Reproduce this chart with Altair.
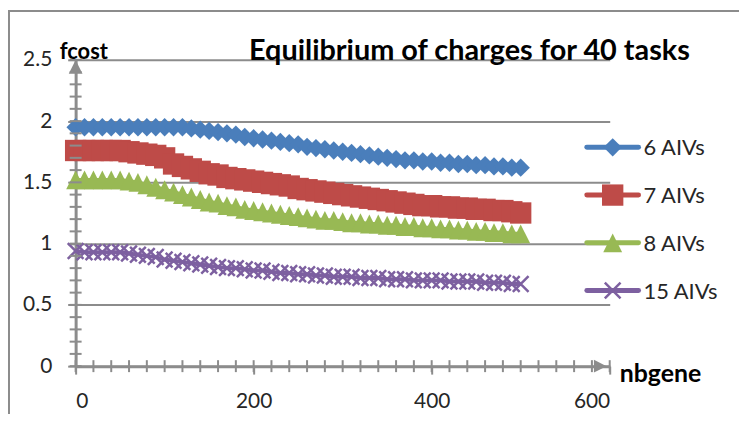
import altair as alt
import pandas as pd

# ---------------- data ----------------
nbgene = [0, 10, 20, 30, 40, 50, 60, 70, 80, 90, 100, 110, 120, 130, 140, 150, 160, 170, 180, 190,
          200, 210, 220, 230, 240, 250, 260, 270, 280, 290, 300, 310, 320, 330, 340, 350, 360, 370,
          380, 390, 400, 410, 420, 430, 440, 450, 460, 470, 480, 490, 500]

cost_6 = [1.95, 1.95, 1.95, 1.95, 1.95, 1.95, 1.95, 1.95, 1.95, 1.95, 1.95, 1.95, 1.95, 1.94, 1.93,
          1.92, 1.91, 1.90, 1.89, 1.87, 1.86, 1.85, 1.84, 1.83, 1.82, 1.81, 1.79, 1.78, 1.77, 1.76,
          1.75, 1.74, 1.73, 1.72, 1.71, 1.70, 1.69, 1.68, 1.68, 1.67, 1.67, 1.66, 1.66, 1.65, 1.65,
          1.64, 1.64, 1.63, 1.63, 1.62, 1.62]

cost_7 = [1.76, 1.76, 1.76, 1.76, 1.76, 1.76, 1.75, 1.74, 1.73, 1.72, 1.70, 1.65, 1.63, 1.61, 1.59,
          1.57, 1.56, 1.54, 1.53, 1.52, 1.51, 1.50, 1.49, 1.48, 1.47, 1.45, 1.44, 1.43, 1.42, 1.41,
          1.40, 1.39, 1.38, 1.37, 1.36, 1.35, 1.34, 1.33, 1.32, 1.31, 1.31, 1.30, 1.30, 1.29, 1.29,
          1.28, 1.28, 1.27, 1.27, 1.26, 1.25]

cost_8 = [1.52, 1.52, 1.52, 1.52, 1.52, 1.52, 1.51, 1.50, 1.48, 1.46, 1.44, 1.42, 1.40, 1.38, 1.36,
          1.34, 1.33, 1.31, 1.30, 1.28, 1.27, 1.26, 1.25, 1.24, 1.23, 1.22, 1.21, 1.20, 1.19, 1.19,
          1.18, 1.17, 1.17, 1.16, 1.16, 1.15, 1.15, 1.14, 1.14, 1.13, 1.13, 1.12, 1.12, 1.11, 1.11,
          1.10, 1.10, 1.09, 1.09, 1.08, 1.08]

cost_15 = [0.94, 0.93, 0.93, 0.93, 0.93, 0.93, 0.92, 0.91, 0.90, 0.89, 0.87, 0.86, 0.85, 0.84, 0.83,
           0.82, 0.81, 0.80, 0.80, 0.79, 0.78, 0.78, 0.77, 0.76, 0.76, 0.75, 0.75, 0.74, 0.74, 0.73,
           0.73, 0.73, 0.72, 0.72, 0.72, 0.71, 0.71, 0.71, 0.70, 0.70, 0.70, 0.70, 0.69, 0.69, 0.69,
           0.69, 0.68, 0.68, 0.68, 0.67, 0.67]

series_names = ["6 AIVs", "7 AIVs", "8 AIVs", "15 AIVs"]
series_values = [cost_6, cost_7, cost_8, cost_15]
series_colors = ["#4A7EBB", "#BE4B48", "#98B954", "#7D60A0"]

y_tick_values = [0, 0.5, 1, 1.5, 2, 2.5]
x_tick_values = [0, 200, 400, 600]
y_minor_ticks = [round(i * 0.1, 1) for i in range(26)]
x_minor_ticks = [i * 20 for i in range(31)]

title_text = "Equilibrium  of charges for 40 tasks"
x_title = "nbgene"
y_title = "fcost"

# ---------------- build ----------------
rows = []
for name, vals in zip(series_names, series_values):
    for g, v in zip(nbgene, vals):
        rows.append({"nbgene": g, "fcost": v, "series": name})
df = pd.DataFrame(rows)

W, H = 537, 308
GRAY = "#8C8C8C"
FONT = "Lato"

DIAMOND = "M0,-1L1,0L0,1L-1,0Z"
SQUARE = "M-1,-1L1,-1L1,1L-1,1Z"
TRIANGLE = "M0,-1L1,1L-1,1Z"
XSHAPE = "M-1,-1L1,1M-1,1L1,-1"
shapes = [DIAMOND, SQUARE, TRIANGLE, XSHAPE]
sizes = [340, 460, 360, 250]

x_scale = alt.Scale(domain=[0, 600], nice=False, zero=False)
y_scale = alt.Scale(domain=[0, 2.5], nice=False, zero=False)

x_axis = alt.Axis(values=x_tick_values, title=None, grid=False, domainColor=GRAY, domainWidth=3,
                  tickColor=GRAY, tickSize=8, tickWidth=2, labelPadding=17, labelFontSize=21,
                  labelFont=FONT, labelColor="#262626", format="d")
y_axis = alt.Axis(values=y_tick_values, title=None, grid=True, gridColor=GRAY, gridWidth=2,
                  gridOpacity=1, domainColor=GRAY, domainWidth=3, tickColor=GRAY, tickSize=8,
                  tickWidth=2, labelPadding=16, labelFontSize=21, labelFont=FONT,
                  labelColor="#262626", format="~g")


def X(field):
    return alt.X(field, scale=x_scale, axis=x_axis)


def Y(field):
    return alt.Y(field, scale=y_scale, axis=y_axis)


layers = []

# series lines
for name, col in zip(series_names, series_colors):
    sub = df[df["series"] == name]
    layers.append(alt.Chart(sub).mark_line(strokeWidth=4, color=col).encode(
        x=X("nbgene:Q"), y=Y("fcost:Q")))

# series markers
for name, col, shp, sz in zip(series_names, series_colors, shapes, sizes):
    sub = df[df["series"] == name]
    if shp == XSHAPE:
        mk = alt.Chart(sub).mark_point(shape=shp, filled=False, size=sz, color=col, strokeWidth=2.5, opacity=1)
    else:
        mk = alt.Chart(sub).mark_point(shape=shp, filled=True, size=sz, color=col, opacity=1)
    layers.append(mk.encode(x=X("nbgene:Q"), y=Y("fcost:Q")))

# minor ticks crossing the axes
yt = pd.DataFrame({"v": y_minor_ticks, "z": [0] * len(y_minor_ticks)})
layers.append(alt.Chart(yt).mark_tick(orient="horizontal", size=12, thickness=2, color=GRAY, opacity=1).encode(
    x=X("z:Q"), y=Y("v:Q")))
xt = pd.DataFrame({"v": x_minor_ticks, "z": [0] * len(x_minor_ticks)})
layers.append(alt.Chart(xt).mark_tick(orient="vertical", size=12, thickness=2, color=GRAY, opacity=1).encode(
    x=X("v:Q"), y=Y("z:Q")))

# axis arrowheads
arr_y = pd.DataFrame({"ax": [0], "ay": [2.5]})
layers.append(alt.Chart(arr_y).mark_point(shape=TRIANGLE, filled=True, size=190, color=GRAY, opacity=1,
                                          yOffset=7).encode(x=X("ax:Q"), y=Y("ay:Q")))
arr_x = pd.DataFrame({"ax": [600], "ay": [0]})
layers.append(alt.Chart(arr_x).mark_point(shape="M1,0L-1,-1L-1,1Z", filled=True, size=160, color=GRAY,
                                          opacity=1, xOffset=-9.5).encode(x=X("ax:Q"), y=Y("ay:Q")))

# legend (manual)
for i, (name, col, shp, sz) in enumerate(zip(series_names, series_colors, shapes, sizes)):
    ly = 88 + 48 * i
    ld = pd.DataFrame({"series": [name]})
    layers.append(alt.Chart(ld).mark_rule(strokeWidth=5, color=col, strokeCap="round").encode(
        x=alt.value(514), x2=alt.value(566), y=alt.value(ly)))
    if shp == XSHAPE:
        lm = alt.Chart(ld).mark_point(shape=shp, filled=False, size=sz, color=col, strokeWidth=2.5, opacity=1)
    else:
        lm = alt.Chart(ld).mark_point(shape=shp, filled=True, size=sz, color=col, opacity=1)
    layers.append(lm.encode(x=alt.value(540), y=alt.value(ly)))
    layers.append(alt.Chart(ld).mark_text(align="left", baseline="middle", font=FONT, fontSize=22,
                                          color="#262626").encode(
        x=alt.value(571), y=alt.value(ly + 1), text="series:N"))

# texts: title and axis titles
tt = pd.DataFrame({"t": [title_text]})
layers.append(alt.Chart(tt).mark_text(align="center", baseline="alphabetic", font=FONT, fontSize=29,
                                      fontWeight="bold", color="#000000").encode(
    x=alt.value(396), y=alt.value(0), text="t:N"))
yt_df = pd.DataFrame({"t": [y_title]})
layers.append(alt.Chart(yt_df).mark_text(align="left", baseline="alphabetic", font=FONT, fontSize=22,
                                         fontWeight="bold", color="#000000").encode(
    x=alt.value(-16), y=alt.value(-1), text="t:N"))
xt_df = pd.DataFrame({"t": [x_title]})
layers.append(alt.Chart(xt_df).mark_text(align="left", baseline="alphabetic", font=FONT, fontSize=25,
                                         fontWeight="bold", color="#000000").encode(
    x=alt.value(547), y=alt.value(324), text="t:N"))

# outer frame (top and left border)
one = pd.DataFrame({"a": [0]})
layers.append(alt.Chart(one).mark_rule(strokeWidth=2, color=GRAY).encode(
    x=alt.value(-68), x2=alt.value(700), y=alt.value(-49)))
layers.append(alt.Chart(one).mark_rule(strokeWidth=2, color=GRAY).encode(
    x=alt.value(-67), y=alt.value(-49), y2=alt.value(420)))

chart = alt.layer(*layers).properties(
    width=W, height=H,
    autosize=alt.AutoSizeParams(type="none"),
    padding={"left": 68, "top": 51, "right": 130, "bottom": 47},
    background="white",
).configure_view(stroke=None)

chart.save("out.html", embed_options={"renderer": "svg", "actions": False})
